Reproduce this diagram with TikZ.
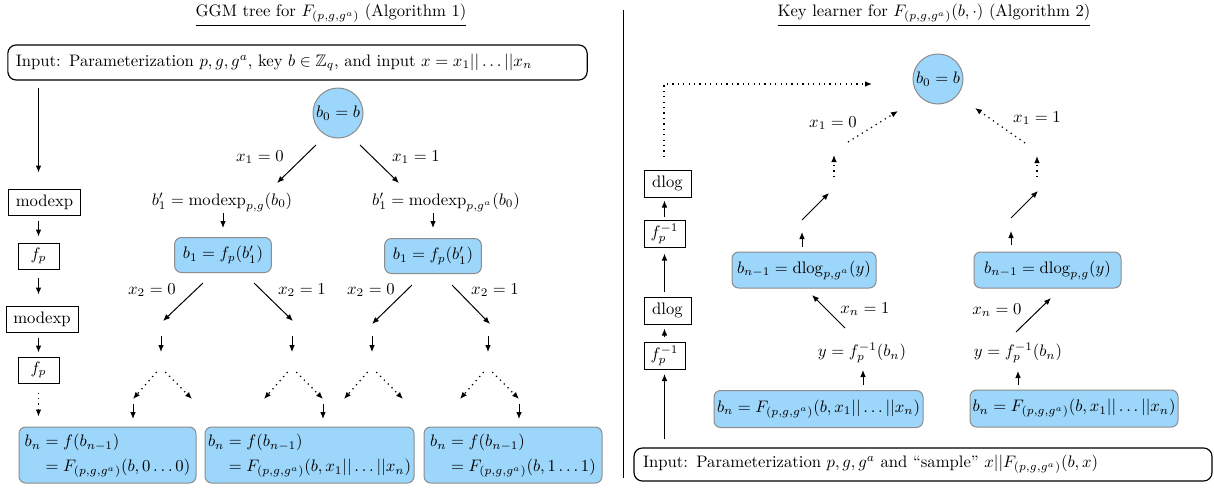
\documentclass[tikz,border=0pt]{standalone}
\usepackage{amsmath,amssymb}
\usetikzlibrary{arrows.meta}
\definecolor{nodeblue}{RGB}{156,214,250}
\definecolor{nodegray}{RGB}{140,140,140}
\begin{document}
\begin{tikzpicture}[x=0.6pt,y=-0.6pt,
  arr/.style={-{Latex[length=4.2pt,width=3.4pt]},line width=0.6pt},
  darr/.style={arr,line width=0.75pt,dash pattern=on 0.75pt off 2.5pt},
  bluebox/.style={draw=nodegray,fill=nodeblue,rounded corners=4pt,line width=0.6pt,inner xsep=1.5pt,inner ysep=1pt},
  bluecirc/.style={draw=nodegray,fill=nodeblue,circle,line width=0.6pt,inner sep=0pt,minimum size=30pt},
  opbox/.style={draw,line width=0.6pt,inner sep=0pt},
  inbox/.style={draw,rounded corners=5pt,line width=0.7pt,inner ysep=0pt,align=left},
  lbl/.style={inner sep=0pt}
]
\useasboundingbox (0,0) rectangle (1214,488);

% ---------------- titles and divider
\node[lbl] (t1) at (331,15) {\underline{GGM tree for $F_{(p,g,g^a)}$ (Algorithm 1)}};
\node[lbl] (t2) at (934,15) {\underline{Key learner for $F_{(p,g,g^a)}(b,\cdot)$ (Algorithm 2)}};
\draw[line width=0.6pt] (623,10) -- (623,478);

% ---------------- left: input
\node[inbox,inner xsep=4.8pt,text width=338pt,minimum height=21pt] (inL) at (297.5,62.5)
  {Input: Parameterization $p, g, g^a$, key $b \in \mathbb{Z}_q$, and input $x = x_1||\ldots||x_n$};

% left column
\node[opbox,minimum width=43.2pt,minimum height=15.6pt] (mx1) at (44.5,202) {modexp};
\node[opbox,minimum width=24.6pt,minimum height=15.6pt] (fp1) at (38.5,256) {$f_p$};
\node[opbox,minimum width=43.2pt,minimum height=15.6pt] (mx2) at (42,319) {modexp};
\node[opbox,minimum width=24.6pt,minimum height=15.6pt] (fp2) at (38.5,370) {$f_p$};

\draw[arr,shorten <=4.2pt,shorten >=9.6pt] (inL.south -| fp1) -- (mx1.north -| fp1);
\draw[arr,shorten <=3pt,shorten >=3.6pt] (mx1.south -| fp1) -- (fp1.north);
\draw[arr,shorten <=4.8pt,shorten >=6.6pt] (fp1.south) -- (mx2.north -| fp1);
\draw[arr,shorten <=3pt,shorten >=2.4pt] (mx2.south -| fp1) -- (fp2.north);

% tree nodes
\node[bluecirc] (c1) at (338,113) {$b_0 = b$};
\node[lbl] (l1a) at (260,157) {$x_1 = 0$};
\node[lbl] (l1b) at (416,157) {$x_1 = 1$};
\node[lbl] (m1a) at (222,202) {$b'_1 = \mathrm{modexp}_{p,g}(b_0)$};
\node[lbl] (m1b) at (446,202) {$b'_1 = \mathrm{modexp}_{p,g^a}(b_0)$};
\node[bluebox,minimum width=58pt,minimum height=21pt] (b1a) at (223,255) {$b_1 = f_p(b'_1)$};
\node[bluebox,minimum width=58pt,minimum height=21pt] (b1b) at (433,256) {$b_1 = f_p(b'_1)$};
\node[lbl] (l2a) at (152,290) {$x_2 = 0$};
\node[lbl] (l2b) at (302,290) {$x_2 = 1$};
\node[lbl] (l2c) at (371,290) {$x_2 = 0$};
\node[lbl] (l2d) at (495,290) {$x_2 = 1$};

\node[bluebox,minimum width=106.2pt,minimum height=33.6pt] (B1) at (107.5,455)
  {$\begin{aligned} b_n &= f(b_{n-1})\\ &= F_{(p,g,g^a)}(b,0\ldots0)\end{aligned}$};
\node[bluebox,minimum width=125.4pt,minimum height=33.6pt] (B2) at (309.5,455)
  {$\begin{aligned} b_n &= f(b_{n-1})\\ &= F_{(p,g,g^a)}(b,x_1||\ldots||x_n)\end{aligned}$};
\node[bluebox,minimum width=106.8pt,minimum height=33.6pt] (B3) at (513,455)
  {$\begin{aligned} b_n &= f(b_{n-1})\\ &= F_{(p,g,g^a)}(b,1\ldots1)\end{aligned}$};

\draw[darr,shorten <=5.4pt,shorten >=6pt] (fp2.south) -- (B1.north -| fp2);

% tree connectors (free-floating arrows between named coordinates)
\coordinate (t1s) at (316,145); \coordinate (t1e) at (277,183);
\coordinate (t2s) at (360,145); \coordinate (t2e) at (399,183);
\coordinate (t3s) at (223,213); \coordinate (t3e) at (223,228);
\coordinate (t4s) at (433,213); \coordinate (t4e) at (433,228);
\coordinate (t5s) at (203,283); \coordinate (t5e) at (163,321);
\coordinate (t6s) at (254,283); \coordinate (t6e) at (293,321);
\coordinate (t7s) at (412,285); \coordinate (t7e) at (372,324);
\coordinate (t8s) at (452,285); \coordinate (t8e) at (490,324);
\draw[arr] (t1s) -- (t1e);
\draw[arr] (t2s) -- (t2e);
\draw[arr] (t3s) -- (t3e);
\draw[arr] (t4s) -- (t4e);
\draw[arr] (t5s) -- (t5e);
\draw[arr] (t6s) -- (t6e);
\draw[arr] (t7s) -- (t7e);
\draw[arr] (t8s) -- (t8e);
\foreach \a [count=\i] in {161,292,372,488}{
  \coordinate (v\i s) at (\a,336); \coordinate (v\i e) at (\a,352);
  \coordinate (p\i) at (\a,372);
  \coordinate (p\i l) at (\a-28,399); \coordinate (p\i r) at (\a+31,399);
  \draw[arr] (v\i s) -- (v\i e);
  \draw[darr] ([xshift=-2.6pt]p\i) -- (p\i l);
  \draw[darr] ([xshift=2.6pt]p\i) -- (p\i r);
}
\coordinate (f1s) at (133,404); \coordinate (f1e) at (133,419);
\coordinate (f2s) at (323,404); \coordinate (f2e) at (323,419);
\coordinate (f3s) at (519,404); \coordinate (f3e) at (519,419);
\draw[arr] (f1s) -- (f1e);
\draw[arr] (f2s) -- (f2e);
\draw[arr] (f3s) -- (f3e);

% ---------------- right side
\node[bluecirc] (c2) at (938,79) {$b_0 = b$};
\node[lbl] (lr1) at (833,123) {$x_1 = 0$};
\node[lbl] (lr2) at (1037,118) {$x_1 = 1$};

\node[opbox,minimum width=28.2pt,minimum height=16.2pt] (dg1) at (667.5,183.5) {dlog};
\node[opbox,minimum width=24.6pt,minimum height=16.2pt] (fi1) at (664.5,233.5) {$f_p^{-1}$};
\node[opbox,minimum width=28.2pt,minimum height=16.2pt] (dg2) at (667.5,310.5) {dlog};
\node[opbox,minimum width=24.6pt,minimum height=16.2pt] (fi2) at (664.5,356) {$f_p^{-1}$};

\node[bluebox,minimum width=86.4pt,minimum height=21.6pt] (dl1) at (804,270) {$b_{n-1} = \mathrm{dlog}_{p,g^a}(y)$};
\node[bluebox,minimum width=88.2pt,minimum height=21.6pt] (dl2) at (1047.5,270) {$b_{n-1} = \mathrm{dlog}_{p,g}(y)$};
\node[lbl] (ln1) at (865,309) {$x_n = 1$};
\node[lbl] (ln2) at (997,310) {$x_n = 0$};
\node[lbl] (y1) at (862,353) {$y = f_p^{-1}(b_n)$};
\node[lbl] (y2) at (1018,353) {$y = f_p^{-1}(b_n)$};
\node[bluebox,minimum width=125.4pt,minimum height=22.2pt] (bn1) at (818.5,409) {$b_n = F_{(p,g,g^a)}(b,x_1||\ldots||x_n)$};
\node[bluebox,minimum width=124.8pt,minimum height=22.2pt] (bn2) at (1074,408.5) {$b_n = F_{(p,g,g^a)}(b,x_1||\ldots||x_n)$};

\node[inbox,inner xsep=5.4pt,text width=336pt,minimum height=19.8pt] (inR) at (923,464.5)
  {Input: Parameterization $p, g, g^a$ and ``sample'' $x||F_{(p,g,g^a)}(b,x)$};

% right column arrows
\coordinate (rda) at (664,157); \coordinate (rdb) at (872,84);
\draw[darr] (rda) |- (rdb);
\draw[arr,shorten <=1.8pt,shorten >=1.8pt] (fi1.north -| fi1) -- (dg1.south -| fi1);
\draw[arr,shorten <=3pt,shorten >=3.6pt] (dg2.north -| fi1) -- (fi1.south);
\draw[arr,shorten <=3pt,shorten >=2.4pt] (fi2.north) -- (dg2.south -| fi2);
\draw[arr,shorten <=4.8pt,shorten >=2.4pt] (inR.north -| fi2) -- (fi2.south);

% right tree arrows
\coordinate (s1s) at (848,142); \coordinate (s1e) at (898,111);
\coordinate (s2s) at (1025,143); \coordinate (s2e) at (975,108);
\coordinate (s3s) at (834,177); \coordinate (s3e) at (834,155);
\coordinate (s4s) at (1037,177); \coordinate (s4e) at (1037,156);
\coordinate (s5s) at (802,220); \coordinate (s5e) at (829,193);
\coordinate (s6s) at (1011,218); \coordinate (s6e) at (1038,191);
\coordinate (s7s) at (802,247); \coordinate (s7e) at (802,232);
\coordinate (s8s) at (1011,245); \coordinate (s8e) at (1011,231);
\coordinate (s9s) at (845,328); \coordinate (s9e) at (812,295);
\coordinate (s10s) at (1016,332); \coordinate (s10e) at (1051,298);
\coordinate (s11s) at (863,385); \coordinate (s11e) at (863,370);
\coordinate (s12s) at (1018,385); \coordinate (s12e) at (1018,371);
\draw[darr] (s1s) -- (s1e);
\draw[darr] (s2s) -- (s2e);
\draw[darr] (s3s) -- (s3e);
\draw[darr] (s4s) -- (s4e);
\draw[arr] (s5s) -- (s5e);
\draw[arr] (s6s) -- (s6e);
\draw[arr] (s7s) -- (s7e);
\draw[arr] (s8s) -- (s8e);
\draw[arr] (s9s) -- (s9e);
\draw[arr] (s10s) -- (s10e);
\draw[arr] (s11s) -- (s11e);
\draw[arr] (s12s) -- (s12e);
\end{tikzpicture}
\end{document}
